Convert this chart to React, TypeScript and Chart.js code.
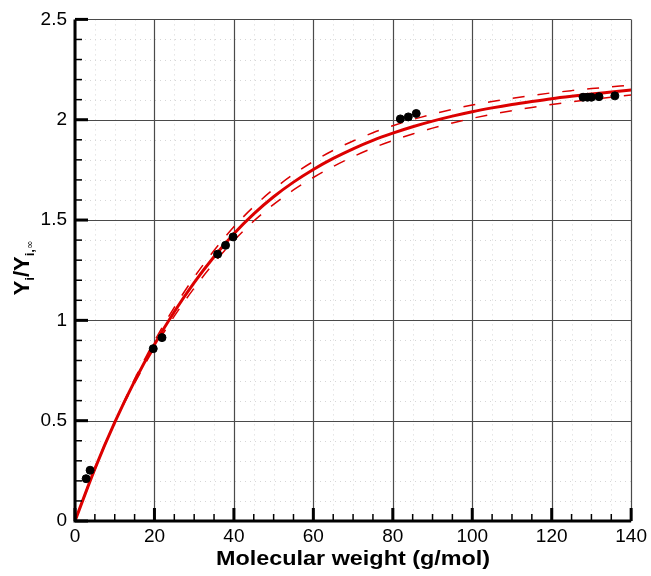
import React, { useEffect, useRef } from "react";
import { Chart, registerables } from "chart.js";

Chart.register(...registerables);

// Curve sample positions (g/mol) and values
const curveX = [0, 5, 10, 15, 20, 25, 30, 35, 40, 45, 50, 55, 60, 65, 70, 75, 80, 85, 90, 95, 100, 105, 110, 115, 120, 125, 130, 135, 140];
const fitSolid = [0, 0.26, 0.491, 0.697, 0.88, 1.043, 1.188, 1.317, 1.432, 1.531, 1.616, 1.689, 1.752, 1.807, 1.855, 1.897, 1.933, 1.965, 1.993, 2.018, 2.04, 2.059, 2.076, 2.091, 2.105, 2.117, 2.128, 2.138, 2.148];
const fitUpper = [0, 0.255, 0.491, 0.707, 0.897, 1.065, 1.215, 1.348, 1.466, 1.567, 1.654, 1.728, 1.792, 1.847, 1.894, 1.935, 1.97, 2.001, 2.028, 2.052, 2.073, 2.091, 2.107, 2.121, 2.134, 2.145, 2.155, 2.164, 2.173];
const fitLower = [0, 0.265, 0.491, 0.687, 0.863, 1.021, 1.161, 1.286, 1.398, 1.495, 1.578, 1.65, 1.712, 1.767, 1.816, 1.859, 1.896, 1.929, 1.958, 1.984, 2.007, 2.027, 2.045, 2.061, 2.076, 2.089, 2.101, 2.112, 2.123];

// Measured points
const ptX = [2.8, 3.8, 19.7, 21.9, 35.9, 37.9, 39.8, 81.9, 83.9, 85.9, 127.9, 129.0, 130.0, 131.9, 135.9];
const ptY = [0.211, 0.253, 0.859, 0.914, 1.33, 1.374, 1.416, 2.004, 2.014, 2.031, 2.112, 2.112, 2.112, 2.115, 2.119];

// Axes
const xMajor = [0, 20, 40, 60, 80, 100, 120, 140];
const yMajor = [0, 0.5, 1, 1.5, 2, 2.5];
const yTickLabels = ["0", "0.5", "1", "1.5", "2", "2.5"];
const xMinorStep = 5;
const yMinorStep = 0.1;
const xTitle = "Molecular weight (g/mol)";

const RED = "#dc0000";
const FONT = '"Liberation Sans", Arial, Helvetica, sans-serif';

const isMajor = (arr: number[], v: number) => arr.some((m) => Math.abs(m - v) < 1e-6);

const customPlugin = {
  id: "customAxes",
  beforeDatasetsDraw(chart: any) {
    const { ctx, chartArea: a, scales } = chart;
    const x = scales.x;
    const y = scales.y;
    ctx.save();
    // minor dotted grid
    ctx.strokeStyle = "#d6d6d6";
    ctx.lineWidth = 1;
    ctx.setLineDash([1, 4]);
    for (let i = 0; i <= 28; i++) {
      const v = i * xMinorStep;
      if (isMajor(xMajor, v)) continue;
      const px = Math.round(x.getPixelForValue(v)) + 0.5;
      ctx.beginPath();
      ctx.moveTo(px, a.top);
      ctx.lineTo(px, a.bottom);
      ctx.stroke();
    }
    for (let i = 0; i <= 25; i++) {
      const v = i * yMinorStep;
      if (isMajor(yMajor, v)) continue;
      const py = Math.round(y.getPixelForValue(v)) + 0.5;
      ctx.beginPath();
      ctx.moveTo(a.left, py);
      ctx.lineTo(a.right, py);
      ctx.stroke();
    }
    // major grid
    ctx.setLineDash([]);
    ctx.strokeStyle = "#4a4a4a";
    ctx.lineWidth = 1.2;
    for (const v of xMajor) {
      const px = Math.round(x.getPixelForValue(v)) + 0.5;
      ctx.beginPath();
      ctx.moveTo(px, a.top);
      ctx.lineTo(px, a.bottom);
      ctx.stroke();
    }
    for (const v of yMajor) {
      const py = Math.round(y.getPixelForValue(v)) + 0.5;
      ctx.beginPath();
      ctx.moveTo(a.left, py);
      ctx.lineTo(a.right, py);
      ctx.stroke();
    }
    ctx.restore();
  },
  afterDatasetsDraw(chart: any) {
    const { ctx, chartArea: a, scales } = chart;
    const x = scales.x;
    const y = scales.y;
    ctx.save();
    ctx.strokeStyle = "#000";
    // minor ticks (inward)
    ctx.lineWidth = 1.5;
    for (let i = 0; i <= 28; i++) {
      const v = i * xMinorStep;
      if (isMajor(xMajor, v)) continue;
      const px = x.getPixelForValue(v);
      ctx.beginPath();
      ctx.moveTo(px, a.bottom);
      ctx.lineTo(px, a.bottom - 7);
      ctx.stroke();
    }
    for (let i = 0; i <= 25; i++) {
      const v = i * yMinorStep;
      if (isMajor(yMajor, v)) continue;
      const py = y.getPixelForValue(v);
      ctx.beginPath();
      ctx.moveTo(a.left, py);
      ctx.lineTo(a.left + 7, py);
      ctx.stroke();
    }
    // major ticks
    ctx.lineWidth = 3;
    for (const v of xMajor) {
      const px = x.getPixelForValue(v);
      ctx.beginPath();
      ctx.moveTo(px, a.bottom);
      ctx.lineTo(px, a.bottom - 13);
      ctx.stroke();
    }
    for (const v of yMajor) {
      const py = y.getPixelForValue(v);
      ctx.beginPath();
      ctx.moveTo(a.left, py);
      ctx.lineTo(a.left + 13, py);
      ctx.stroke();
    }
    // axis lines
    ctx.lineWidth = 3;
    ctx.beginPath();
    ctx.moveTo(a.left, a.top);
    ctx.lineTo(a.left, a.bottom);
    ctx.lineTo(a.right, a.bottom);
    ctx.stroke();

    // X title
    ctx.fillStyle = "#000";
    ctx.font = `bold 20px ${FONT}`;
    ctx.textBaseline = "alphabetic";
    ctx.textAlign = "left";
    const w = ctx.measureText(xTitle).width;
    const target = 274;
    const cx = (a.left + a.right) / 2;
    ctx.save();
    ctx.translate(cx - target / 2, 565);
    ctx.scale(target / w, 1);
    ctx.fillText(xTitle, 0, 0);
    ctx.restore();

    // Y title: Y_i / Y_{i,∞}
    const parts = [
      { t: "Y", f: `bold 22px ${FONT}`, dy: 0 },
      { t: "i", f: `bold 13px ${FONT}`, dy: 5 },
      { t: "/", f: `bold 22px ${FONT}`, dy: 0 },
      { t: "Y", f: `bold 22px ${FONT}`, dy: 0 },
      { t: "i,", f: `bold 13px ${FONT}`, dy: 5 },
      { t: "\u221E", f: `10px "DejaVu Sans", sans-serif`, dy: 4 },
    ];
    ctx.save();
    ctx.translate(29, 268);
    ctx.rotate(-Math.PI / 2);
    let total = 0;
    for (const p of parts) {
      ctx.font = p.f;
      total += ctx.measureText(p.t).width;
    }
    let cur = -total / 2;
    for (const p of parts) {
      ctx.font = p.f;
      ctx.fillText(p.t, cur, p.dy);
      cur += ctx.measureText(p.t).width;
    }
    ctx.restore();
    ctx.restore();
  },
};

export default function App() {
  const ref = useRef<HTMLCanvasElement | null>(null);
  useEffect(() => {
    if (!ref.current) return;
    const mk = (ys: number[]) => curveX.map((xv, i) => ({ x: xv, y: ys[i] }));
    const chart = new Chart(ref.current, {
      type: "scatter",
      data: {
        datasets: [
          {
            label: "data",
            data: ptX.map((xv, i) => ({ x: xv, y: ptY[i] })),
            backgroundColor: "#000",
            borderColor: "#000",
            pointRadius: 4,
            showLine: false,
            order: 0,
          },
          {
            label: "fit",
            data: mk(fitSolid),
            showLine: true,
            borderColor: RED,
            borderWidth: 3,
            pointRadius: 0,
            cubicInterpolationMode: "monotone",
            order: 1,
          },
          {
            label: "upper",
            data: mk(fitUpper),
            showLine: true,
            borderColor: RED,
            borderWidth: 1.5,
            borderDash: [12, 13],
            pointRadius: 0,
            cubicInterpolationMode: "monotone",
            order: 2,
          },
          {
            label: "lower",
            data: mk(fitLower),
            showLine: true,
            borderColor: RED,
            borderWidth: 1.5,
            borderDash: [12, 13],
            pointRadius: 0,
            cubicInterpolationMode: "monotone",
            order: 2,
          },
        ],
      },
      options: {
        animation: false,
        responsive: true,
        maintainAspectRatio: false,
        layout: { padding: { top: 13, right: 18, left: 0, bottom: 0 } },
        plugins: { legend: { display: false }, tooltip: { enabled: false }, title: { display: false } },
        scales: {
          x: {
            type: "linear",
            min: 0,
            max: 140,
            ticks: { stepSize: 20, color: "#000", font: { family: FONT, size: 19 }, padding: 4, maxRotation: 0 },
            grid: { display: false, drawTicks: false },
            border: { display: false },
            afterFit: (s: any) => {
              s.height = 55;
            },
          },
          y: {
            type: "linear",
            min: 0,
            max: 2.5,
            ticks: {
              stepSize: 0.5,
              color: "#000",
              font: { family: FONT, size: 19 },
              padding: 8,
              callback: (v: any) => {
                const idx = yMajor.findIndex((m) => Math.abs(m - Number(v)) < 1e-6);
                return idx >= 0 ? yTickLabels[idx] : "";
              },
            },
            grid: { display: false, drawTicks: false },
            border: { display: false },
            afterFit: (s: any) => {
              s.width = 75;
            },
          },
        },
      },
      plugins: [customPlugin],
    });
    return () => chart.destroy();
  }, []);
  return (
    <div style={{ position: "fixed", left: 0, top: 0, width: 651, height: 576, background: "#fff" }}>
      <canvas ref={ref} />
    </div>
  );
}
